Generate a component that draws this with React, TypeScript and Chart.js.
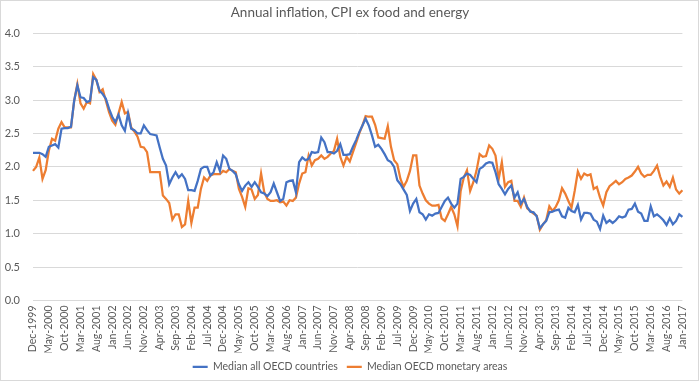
import React, { useEffect, useRef } from "react";
import { Chart, registerables } from "chart.js";

Chart.register(...registerables);

const TITLE = "Annual inflation, CPI ex food and energy";
const SERIES_NAMES = ["Median all OECD countries", "Median OECD monetary areas"];
const COLORS = ["#4472C4", "#ED7D31"];

const MONTH_NAMES = ["Jan", "Feb", "Mar", "Apr", "May", "Jun", "Jul", "Aug", "Sep", "Oct", "Nov", "Dec"];
const START_YEAR = 1999;
const START_MONTH = 11; // Dec (0-based)
const MONTH_COUNT = 206; // Dec-1999 .. Jan-2017

const CATEGORIES: string[] = [];
for (let k = 0; k < MONTH_COUNT; k++) {
  const m = START_MONTH + k;
  CATEGORIES.push(MONTH_NAMES[m % 12] + "-" + (START_YEAR + Math.floor(m / 12)));
}

const TICK_LABELS = [
  "Dec-1999", "May-2000", "Oct-2000", "Mar-2001", "Aug-2001", "Jan-2002", "Jun-2002", "Nov-2002",
  "Apr-2003", "Sep-2003", "Feb-2004", "Jul-2004", "Dec-2004", "May-2005", "Oct-2005", "Mar-2006",
  "Aug-2006", "Jan-2007", "Jun-2007", "Nov-2007", "Apr-2008", "Sep-2008", "Feb-2009", "Jul-2009",
  "Dec-2009", "May-2010", "Oct-2010", "Mar-2011", "Aug-2011", "Jan-2012", "Jun-2012", "Nov-2012",
  "Apr-2013", "Sep-2013", "Feb-2014", "Jul-2014", "Dec-2014", "May-2015", "Oct-2015", "Mar-2016",
  "Aug-2016", "Jan-2017",
];

const Y_TICKS = [0, 0.5, 1, 1.5, 2, 2.5, 3, 3.5, 4];

// Median all OECD countries
const ALL_OECD = [
  2.21, 2.21, 2.21, 2.19, 2.15, 2.30, 2.32, 2.34, 2.29, 2.57, 2.58, 2.58, 2.60,
  2.99, 3.22, 3.04, 3.03, 2.97, 2.99, 3.34, 3.30, 3.14, 3.09, 3.02, 2.87,
  2.75, 2.67, 2.78, 2.62, 2.54, 2.80, 2.57, 2.55, 2.50, 2.50, 2.62, 2.55,
  2.49, 2.48, 2.47, 2.29, 2.12, 2.02, 1.74, 1.84, 1.92, 1.84, 1.89, 1.82,
  1.65, 1.65, 1.64, 1.79, 1.97, 2.00, 2.00, 1.87, 1.92, 2.07, 1.94, 2.17,
  2.12, 1.97, 1.94, 1.89, 1.74, 1.64, 1.72, 1.77, 1.70, 1.77, 1.70, 1.62,
  1.60, 1.56, 1.62, 1.75, 1.62, 1.49, 1.52, 1.77, 1.79, 1.80, 1.62, 2.07,
  2.14, 2.10, 2.12, 2.22, 2.21, 2.22, 2.44, 2.37, 2.22, 2.22, 2.20, 2.24,
  2.34, 2.18, 2.18, 2.19, 2.30, 2.40, 2.52, 2.62, 2.72, 2.62, 2.47, 2.30,
  2.33, 2.27, 2.19, 2.10, 2.07, 2.00, 1.80, 1.74, 1.66, 1.58, 1.34, 1.45,
  1.52, 1.32, 1.29, 1.21, 1.29, 1.27, 1.30, 1.31, 1.40, 1.49, 1.54, 1.45,
  1.39, 1.45, 1.82, 1.85, 1.90, 1.88, 1.82, 1.77, 1.97, 2.00, 2.05, 2.07,
  2.06, 1.92, 1.74, 1.67, 1.59, 1.67, 1.72, 1.54, 1.62, 1.45, 1.52, 1.40,
  1.33, 1.32, 1.26, 1.08, 1.14, 1.19, 1.32, 1.33, 1.35, 1.36, 1.26, 1.24,
  1.39, 1.34, 1.32, 1.43, 1.21, 1.31, 1.31, 1.30, 1.21, 1.18, 1.07, 1.27,
  1.16, 1.20, 1.16, 1.20, 1.26, 1.24, 1.26, 1.36, 1.37, 1.45, 1.33, 1.30,
  1.19, 1.19, 1.41, 1.26, 1.29, 1.25, 1.20, 1.13, 1.23, 1.14, 1.19, 1.29,
  1.25,
];

// Median OECD monetary areas
const MONETARY_AREAS = [
  1.94, 2.00, 2.14, 1.82, 1.95, 2.24, 2.42, 2.39, 2.57, 2.67, 2.59, 2.59, 2.59,
  2.99, 3.24, 2.95, 2.87, 2.97, 2.95, 3.39, 3.30, 3.12, 3.16, 2.99, 2.82,
  2.69, 2.63, 2.80, 2.97, 2.80, 2.82, 2.59, 2.53, 2.45, 2.30, 2.29, 2.22,
  1.92, 1.92, 1.92, 1.92, 1.57, 1.52, 1.46, 1.21, 1.29, 1.29, 1.10, 1.14,
  1.49, 1.16, 1.39, 1.39, 1.67, 1.84, 1.79, 1.87, 1.89, 1.89, 1.89, 1.94,
  1.92, 1.97, 1.94, 1.92, 1.67, 1.55, 1.40, 1.68, 1.66, 1.52, 1.58, 1.90,
  1.62, 1.52, 1.49, 1.49, 1.50, 1.47, 1.48, 1.42, 1.50, 1.49, 1.54, 1.75,
  1.90, 1.92, 2.17, 2.02, 2.10, 2.12, 2.17, 2.12, 2.15, 2.20, 2.24, 2.42,
  2.15, 2.02, 2.15, 2.08, 2.22, 2.36, 2.50, 2.62, 2.76, 2.75, 2.75, 2.63,
  2.44, 2.43, 2.42, 2.61, 2.30, 2.10, 2.04, 1.82, 1.70, 1.79, 1.94, 2.17,
  2.17, 1.72, 1.60, 1.50, 1.45, 1.42, 1.42, 1.43, 1.23, 1.19, 1.29, 1.40,
  1.29, 1.11, 1.64, 1.84, 1.95, 1.64, 1.77, 1.94, 2.19, 2.15, 2.16, 2.32,
  2.27, 2.17, 1.82, 2.07, 1.70, 1.77, 1.79, 1.49, 1.49, 1.40, 1.54, 1.38,
  1.34, 1.30, 1.27, 1.06, 1.14, 1.20, 1.41, 1.34, 1.40, 1.50, 1.68, 1.60,
  1.49, 1.39, 1.64, 1.93, 1.82, 1.90, 1.87, 1.89, 1.67, 1.70, 1.54, 1.42,
  1.62, 1.71, 1.75, 1.79, 1.74, 1.77, 1.82, 1.84, 1.87, 1.93, 2.00, 1.90,
  1.85, 1.88, 1.88, 1.94, 2.02, 1.85, 1.72, 1.78, 1.70, 1.84, 1.66, 1.60,
  1.65,
];

const FONT = "Lato, 'Open Sans', sans-serif";
const TEXT_COLOR = "#595959";
const GRID_COLOR = "#d9d9d9";

export default function App() {
  const canvasRef = useRef<HTMLCanvasElement | null>(null);

  useEffect(() => {
    const canvas = canvasRef.current;
    if (!canvas) return;
    const chart = new Chart(canvas, {
      type: "line",
      data: {
        labels: CATEGORIES,
        datasets: [
          {
            label: SERIES_NAMES[0],
            data: ALL_OECD,
            borderColor: COLORS[0],
            backgroundColor: COLORS[0],
            borderWidth: 2.25,
            pointRadius: 0,
            tension: 0,
          },
          {
            label: SERIES_NAMES[1],
            data: MONETARY_AREAS,
            borderColor: COLORS[1],
            backgroundColor: COLORS[1],
            borderWidth: 2.25,
            pointRadius: 0,
            tension: 0,
          },
        ],
      },
      options: {
        responsive: false,
        animation: false,
        devicePixelRatio: 1,
        layout: { padding: { left: 0, right: 0, top: 0, bottom: 0 } },
        plugins: {
          title: {
            display: true,
            text: TITLE,
            color: TEXT_COLOR,
            font: { family: FONT, size: 13.5, weight: "normal" },
            padding: { top: 5, bottom: 12 },
          },
          legend: {
            position: "bottom",
            labels: {
              usePointStyle: true,
              pointStyle: "line",
              pointStyleWidth: 15,
              color: TEXT_COLOR,
              font: { family: FONT, size: 10.5 },
              padding: 9,
            },
          },
          tooltip: { enabled: false },
        },
        scales: {
          x: {
            offset: false,
            afterFit: (s: any) => {
              s.height = 52;
            },
            grid: { display: false, drawTicks: false },
            border: { display: false },
            ticks: {
              autoSkip: false,
              minRotation: 90,
              maxRotation: 90,
              color: TEXT_COLOR,
              font: { family: FONT, size: 10.5 },
              padding: 5,
              callback: (_v: any, i: number) =>
                TICK_LABELS.includes(CATEGORIES[i]) ? CATEGORIES[i] : "",
            },
          },
          y: {
            min: Y_TICKS[0],
            max: Y_TICKS[Y_TICKS.length - 1],
            afterFit: (s: any) => {
              s.width = 33;
            },
            afterBuildTicks: (s: any) => {
              s.ticks = Y_TICKS.map((v) => ({ value: v }));
            },
            grid: { color: GRID_COLOR, drawTicks: false, lineWidth: 1 },
            border: { display: false },
            ticks: {
              color: TEXT_COLOR,
              font: { family: FONT, size: 11 },
              padding: 13,
              callback: (v: any) => Number(v).toFixed(1),
            },
          },
        },
      },
    });
    return () => chart.destroy();
  }, []);

  return (
    <div style={{ position: "fixed", left: 0, top: 0, width: 700, height: 382, background: "#fff" }}>
      <canvas ref={canvasRef} width={700} height={382} style={{ display: "block" }} />
      <div
        style={{
          position: "absolute",
          left: 0,
          top: 0,
          width: 697,
          height: 379,
          border: "1px solid #d9d9d9",
          pointerEvents: "none",
        }}
      />
    </div>
  );
}
